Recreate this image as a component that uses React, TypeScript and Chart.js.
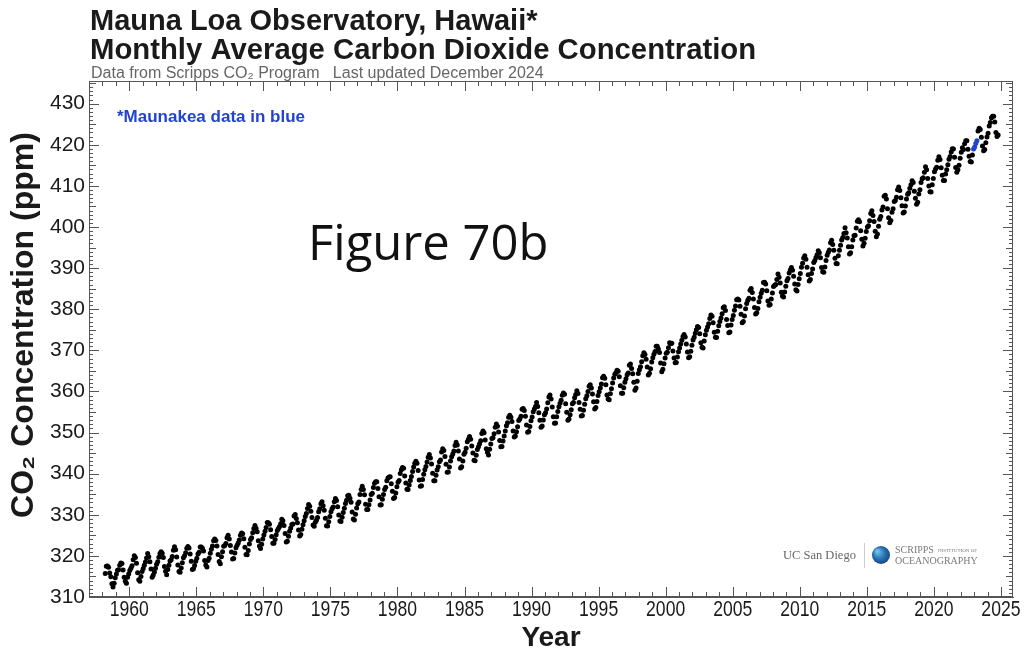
import React, { useEffect, useRef } from "react";
import { Chart, registerables } from "chart.js";

Chart.register(...registerables);

// ---- Text ----
const TITLE_LINE1 = "Mauna Loa Observatory, Hawaii*";
const TITLE_LINE2 = "Monthly Average Carbon Dioxide Concentration";
const SUBTITLE = "Data from Scripps CO\u2082 Program   Last updated December 2024";
const NOTE = "*Maunakea data in blue";
const WATERMARK = "Figure 70b";
const X_TITLE = "Year";
const Y_TITLE = "CO\u2082 Concentration (ppm)";

// ---- Tick labels ----
const xTickLabels = [1960, 1965, 1970, 1975, 1980, 1985, 1990, 1995, 2000, 2005, 2010, 2015, 2020, 2025];
const yTickLabels = [310, 320, 330, 340, 350, 360, 370, 380, 390, 400, 410, 420, 430];

// ---- Monthly CO2 (ppm), Mauna Loa ----
// 1958 starts in March
const co2_1958_1959 = [
  315.70, 317.45, 317.51, 317.24, 315.86, 314.93, 313.20, 312.43, 313.33, 314.67,
  315.58, 316.49, 316.65, 317.72, 318.29, 318.15, 316.54, 314.80, 313.84, 313.33, 314.81, 315.58,
];
const co2_1960s = [
  316.43, 316.98, 317.58, 319.03, 320.04, 319.59, 318.18, 315.90, 314.17, 313.83, 315.00, 316.19,
  316.93, 317.70, 318.54, 319.48, 320.58, 319.77, 318.57, 316.79, 314.80, 315.38, 316.10, 317.01,
  317.94, 318.55, 319.68, 320.57, 321.02, 320.62, 319.61, 317.40, 316.25, 315.42, 316.69, 317.70,
  318.74, 319.07, 319.86, 321.38, 322.25, 321.48, 319.74, 317.77, 316.21, 315.99, 317.07, 318.35,
  319.57, 320.01, 320.74, 321.84, 322.26, 321.89, 320.44, 318.69, 316.70, 316.87, 317.68, 318.71,
  319.44, 320.44, 320.89, 322.14, 322.17, 321.87, 321.21, 318.87, 317.81, 317.30, 318.87, 319.42,
  320.62, 321.60, 322.39, 323.70, 324.08, 323.75, 322.38, 320.36, 318.64, 318.10, 319.78, 321.03,
  322.33, 322.50, 323.04, 324.42, 325.00, 324.09, 322.54, 320.92, 319.25, 319.39, 320.73, 321.96,
  322.57, 323.15, 323.89, 325.02, 325.57, 325.36, 324.14, 322.11, 320.33, 320.25, 321.32, 322.89,
  324.00, 324.42, 325.63, 326.66, 327.38, 326.71, 325.88, 323.66, 322.38, 321.78, 322.85, 324.12,
];
const co2_1970s = [
  325.06, 325.98, 326.93, 328.13, 328.08, 327.67, 326.34, 324.69, 323.10, 323.06, 324.01, 325.13,
  326.17, 326.68, 327.17, 327.79, 328.93, 328.57, 327.36, 325.43, 323.36, 323.56, 324.80, 326.01,
  326.77, 327.63, 327.75, 329.72, 330.07, 329.09, 328.04, 326.32, 324.84, 325.20, 326.50, 327.55,
  328.55, 329.56, 330.30, 331.50, 332.48, 332.07, 330.87, 329.31, 327.51, 327.18, 328.16, 328.64,
  329.35, 330.71, 331.48, 332.65, 333.18, 332.20, 331.07, 329.15, 327.33, 327.28, 328.31, 329.58,
  330.73, 331.46, 331.90, 333.17, 333.94, 333.45, 331.97, 329.95, 328.50, 328.34, 329.37, 330.58,
  331.59, 332.75, 333.52, 334.64, 334.77, 334.00, 333.06, 330.68, 328.95, 328.75, 330.15, 331.62,
  332.66, 333.13, 334.95, 336.13, 336.93, 336.17, 334.88, 332.56, 331.29, 331.27, 332.41, 333.60,
  334.95, 335.25, 336.66, 337.69, 338.03, 338.01, 336.41, 334.41, 332.37, 332.41, 333.75, 334.90,
  336.14, 336.69, 338.27, 338.96, 339.21, 339.26, 337.54, 335.75, 333.98, 334.19, 335.31, 336.81,
];
const co2_1980s = [
  337.90, 338.34, 340.01, 340.93, 341.48, 341.33, 339.40, 337.70, 336.19, 336.15, 337.27, 338.32,
  339.29, 340.55, 341.61, 342.53, 343.03, 342.54, 340.78, 338.44, 336.95, 337.08, 338.58, 339.88,
  340.96, 341.73, 342.81, 343.97, 344.63, 343.79, 342.32, 340.09, 338.28, 338.29, 339.60, 340.90,
  341.68, 342.90, 343.33, 345.25, 346.03, 345.63, 344.19, 342.27, 340.35, 340.38, 341.59, 343.05,
  344.10, 344.79, 345.52, 346.84, 347.63, 346.97, 345.53, 343.55, 341.40, 341.67, 343.10, 344.70,
  345.21, 346.16, 347.74, 348.34, 349.06, 348.38, 346.71, 345.02, 343.27, 343.13, 344.49, 345.88,
  346.56, 347.28, 348.01, 349.77, 350.38, 349.93, 348.16, 346.08, 345.22, 344.51, 345.93, 347.21,
  348.52, 348.73, 349.73, 351.31, 352.09, 351.53, 350.11, 348.08, 346.52, 346.59, 347.96, 349.16,
  350.39, 351.64, 352.41, 353.69, 354.21, 353.72, 352.69, 350.40, 348.92, 349.13, 350.20, 351.41,
  352.91, 353.27, 353.96, 355.64, 355.86, 355.37, 353.99, 351.81, 350.05, 350.25, 351.49, 352.85,
];
const co2_1990s = [
  353.80, 355.04, 355.73, 356.32, 357.32, 356.34, 354.84, 353.01, 351.31, 351.62, 353.07, 354.33,
  354.84, 355.73, 357.23, 358.66, 359.13, 358.13, 356.19, 353.85, 352.25, 352.35, 353.81, 355.12,
  356.25, 357.11, 357.86, 359.09, 359.59, 359.33, 357.01, 354.94, 352.96, 353.32, 354.32, 355.57,
  357.00, 357.31, 358.47, 359.27, 360.19, 359.52, 357.33, 355.64, 354.03, 354.12, 355.41, 356.91,
  358.24, 358.92, 359.99, 361.23, 361.65, 360.81, 359.38, 357.46, 355.73, 356.08, 357.53, 358.98,
  359.92, 360.86, 361.83, 363.30, 363.69, 363.19, 361.64, 359.12, 358.17, 357.99, 359.45, 360.68,
  362.07, 363.24, 364.17, 364.57, 365.13, 364.92, 363.55, 361.38, 359.54, 359.58, 360.89, 362.24,
  363.09, 364.03, 364.51, 366.35, 366.64, 365.59, 364.31, 362.25, 360.29, 360.82, 362.49, 364.38,
  365.26, 365.98, 367.24, 368.66, 369.42, 368.99, 367.82, 365.95, 364.02, 364.40, 365.52, 367.13,
  368.18, 369.07, 369.68, 370.99, 370.96, 370.30, 369.45, 366.90, 364.81, 365.37, 366.72, 368.10,
];
const co2_2000s = [
  369.29, 369.54, 370.60, 371.82, 371.58, 371.70, 369.86, 368.13, 367.00, 367.03, 368.37, 369.67,
  370.59, 371.51, 372.43, 373.37, 373.85, 373.21, 371.51, 369.61, 368.18, 368.45, 369.76, 371.24,
  372.53, 373.20, 374.12, 375.02, 375.76, 375.52, 374.01, 371.85, 370.75, 370.55, 372.25, 373.79,
  374.88, 375.64, 376.45, 377.73, 378.60, 378.28, 376.70, 374.38, 373.17, 373.14, 374.66, 375.99,
  377.00, 377.87, 378.88, 380.35, 380.62, 379.69, 377.47, 376.01, 374.25, 374.46, 376.16, 377.51,
  378.46, 379.73, 380.77, 382.29, 382.45, 382.21, 380.74, 378.74, 376.70, 377.00, 378.35, 380.11,
  381.38, 382.19, 382.67, 384.61, 385.03, 384.05, 382.46, 380.41, 378.85, 379.13, 380.15, 381.82,
  382.89, 383.90, 384.58, 386.50, 386.56, 386.10, 384.50, 381.99, 380.96, 381.12, 382.45, 383.95,
  385.52, 385.82, 386.03, 387.21, 388.54, 387.76, 386.36, 384.09, 383.18, 382.99, 384.19, 385.56,
  386.94, 387.48, 388.82, 389.55, 390.14, 389.48, 388.03, 386.11, 384.74, 384.43, 386.02, 387.42,
];
const co2_2010s = [
  388.71, 390.20, 391.17, 392.46, 393.00, 392.15, 390.20, 388.35, 386.85, 387.24, 388.67, 389.79,
  391.33, 391.86, 392.60, 393.25, 394.19, 393.74, 392.51, 390.13, 389.08, 389.00, 390.28, 391.86,
  393.12, 393.86, 394.40, 396.18, 396.74, 395.71, 394.36, 392.39, 391.11, 391.05, 392.98, 394.34,
  395.55, 396.80, 397.43, 398.41, 399.78, 398.60, 397.32, 395.20, 393.45, 393.70, 395.16, 396.84,
  397.85, 398.01, 399.77, 401.38, 401.78, 401.25, 399.10, 397.03, 395.38, 396.03, 397.28, 398.91,
  399.98, 400.28, 401.54, 403.28, 403.96, 402.80, 401.31, 398.93, 397.63, 398.29, 400.16, 401.85,
  402.56, 404.12, 404.87, 407.45, 407.72, 406.83, 404.41, 402.27, 401.05, 401.59, 403.55, 404.45,
  406.17, 406.46, 407.22, 409.04, 409.69, 408.88, 407.12, 405.13, 403.37, 403.63, 405.12, 406.81,
  407.96, 408.32, 409.41, 410.24, 411.24, 410.79, 408.71, 406.99, 405.51, 406.00, 408.02, 409.07,
  410.83, 411.75, 411.97, 413.32, 414.66, 413.92, 411.77, 409.95, 408.54, 408.53, 410.27, 411.76,
];
// null = no Mauna Loa measurement (2022 eruption); ends October 2024
const co2_2020s = [
  413.40, 414.11, 414.51, 416.21, 417.07, 416.39, 414.38, 412.55, 411.29, 411.28, 412.89, 413.89,
  415.15, 416.47, 417.16, 418.24, 419.05, 418.97, 416.96, 414.47, 413.30, 413.93, 415.01, 416.71,
  418.19, 419.28, 418.81, 420.23, 420.99, 420.99, 418.90, 417.19, 415.95, 415.78, 417.51, null,
  null, null, null, 423.36, 424.00, 423.68, 421.83, 419.68, 418.51, 418.82, 420.46, 421.86,
  422.80, 424.55, 425.38, 426.57, 426.90, 426.91, 425.55, 422.99, 422.03, 422.38,
];
// Maunakea, December 2022 - March 2023
const maunakeaValues = [418.95, 419.47, 420.31, 420.99];

type Pt = { x: number; y: number };
function toPoints(startYear: number, startMonth: number, values: (number | null)[]): Pt[] {
  const out: Pt[] = [];
  values.forEach((v, i) => {
    if (v === null) return;
    const m = startMonth + i;
    out.push({ x: startYear + (m + 0.5) / 12, y: v });
  });
  return out;
}

const maunaLoaPoints: Pt[] = [
  ...toPoints(1958, 2, co2_1958_1959),
  ...toPoints(1960, 0, co2_1960s),
  ...toPoints(1970, 0, co2_1970s),
  ...toPoints(1980, 0, co2_1980s),
  ...toPoints(1990, 0, co2_1990s),
  ...toPoints(2000, 0, co2_2000s),
  ...toPoints(2010, 0, co2_2010s),
  ...toPoints(2020, 0, co2_2020s),
];
const maunakeaPoints: Pt[] = toPoints(2022, 11, maunakeaValues);

const SANS = '"Liberation Sans", "DejaVu Sans", Arial, sans-serif';
const SERIF = '"Liberation Serif", "DejaVu Serif", serif';
const AXIS_COLOR = "#555";
const TEXT_COLOR = "#1a1a1a";
const BLUE = "#2244cc";

const decorPlugin = {
  id: "decor",
  afterDraw(chart: any) {
    const ctx: CanvasRenderingContext2D = chart.ctx;
    const { left, right, top, bottom } = chart.chartArea;
    const xs = chart.scales.x;
    const ys = chart.scales.y;
    ctx.save();
    // frame
    ctx.strokeStyle = AXIS_COLOR;
    ctx.lineWidth = 1;
    ctx.strokeRect(left + 0.5, top + 0.5, right - left - 1, bottom - top - 1);
    // inner ticks
    ctx.beginPath();
    for (let yr = Math.ceil(xs.min); yr <= xs.max; yr++) {
      const px = Math.round(xs.getPixelForValue(yr)) + 0.5;
      const len = yr % 5 === 0 ? 10 : 5;
      ctx.moveTo(px, bottom);
      ctx.lineTo(px, bottom - len);
      ctx.moveTo(px, top);
      ctx.lineTo(px, top + len);
    }
    for (let v = Math.ceil(ys.min); v <= ys.max; v++) {
      const py = Math.round(ys.getPixelForValue(v)) + 0.5;
      const len = v % 10 === 0 ? 10 : v % 5 === 0 ? 7 : 4;
      ctx.moveTo(left, py);
      ctx.lineTo(left + len, py);
      ctx.moveTo(right, py);
      ctx.lineTo(right - len, py);
    }
    ctx.stroke();

    // x tick labels (condensed)
    ctx.fillStyle = TEXT_COLOR;
    ctx.font = `22px ${SANS}`;
    ctx.textAlign = "center";
    ctx.textBaseline = "alphabetic";
    xTickLabels.forEach((v) => {
      const px = xs.getPixelForValue(v);
      ctx.save();
      ctx.translate(px, 616);
      ctx.scale(0.8, 1);
      ctx.fillText(String(v), 0, 0);
      ctx.restore();
    });

    // axis titles
    ctx.font = `bold 28px ${SANS}`;
    ctx.fillText(X_TITLE, (left + right) / 2, 646);
    ctx.save();
    ctx.translate(33, 325);
    ctx.rotate(-Math.PI / 2);
    ctx.font = `bold 32px ${SANS}`;
    ctx.fillText(Y_TITLE, 0, 0);
    ctx.restore();

    // titles
    ctx.textAlign = "left";
    ctx.fillStyle = TEXT_COLOR;
    ctx.font = `bold 29px ${SANS}`;
    ctx.fillText(TITLE_LINE1, 90, 30);
    ctx.save();
    ctx.translate(90, 59);
    ctx.scale(1.01, 1);
    ctx.fillText(TITLE_LINE2, 0, 0);
    ctx.restore();
    ctx.fillStyle = "#666";
    ctx.font = `16px ${SANS}`;
    ctx.fillText(SUBTITLE, 91, 78);

    // note
    ctx.fillStyle = BLUE;
    ctx.font = `bold 17px ${SANS}`;
    ctx.fillText(NOTE, 117, 122);

    // watermark text
    ctx.fillStyle = "#111";
    ctx.font = `49px "Open Sans", ${SANS}`;
    ctx.fillText(WATERMARK, 308, 260);

    // logos
    ctx.fillStyle = "#666";
    ctx.font = `12.5px ${SERIF}`;
    ctx.fillText("UC San Diego", 783, 559);
    ctx.strokeStyle = "#ccc";
    ctx.beginPath();
    ctx.moveTo(864.5, 543);
    ctx.lineTo(864.5, 568);
    ctx.stroke();
    const g = ctx.createRadialGradient(877, 551, 1, 881, 555, 10);
    g.addColorStop(0, "#6fc3e8");
    g.addColorStop(0.5, "#2a78b8");
    g.addColorStop(1, "#173f7a");
    ctx.fillStyle = g;
    ctx.beginPath();
    ctx.arc(881, 555, 9, 0, Math.PI * 2);
    ctx.fill();
    ctx.fillStyle = "#7a7a7a";
    ctx.font = `10px ${SERIF}`;
    ctx.fillText("SCRIPPS", 895, 553);
    ctx.font = `5px ${SERIF}`;
    ctx.fillText("INSTITUTION OF", 938, 552);
    ctx.font = `10px ${SERIF}`;
    ctx.fillText("OCEANOGRAPHY", 895, 564);
    ctx.restore();
  },
};

export default function App() {
  const canvasRef = useRef<HTMLCanvasElement | null>(null);

  useEffect(() => {
    const canvas = canvasRef.current;
    if (!canvas) return;
    const chart = new Chart(canvas, {
      type: "scatter",
      data: {
        datasets: [
          {
            label: "Mauna Loa",
            data: maunaLoaPoints,
            backgroundColor: "#000",
            borderWidth: 0,
            pointRadius: 2.5,
            showLine: false,
          },
          {
            label: "Maunakea",
            data: maunakeaPoints,
            backgroundColor: BLUE,
            borderWidth: 0,
            pointRadius: 2.5,
            showLine: false,
          },
        ],
      },
      options: {
        responsive: false,
        animation: false,
        devicePixelRatio: 1,
        layout: { padding: { left: 0, top: 81, right: 12, bottom: 0 } },
        plugins: {
          legend: { display: false },
          tooltip: { enabled: false },
          title: { display: false },
        },
        scales: {
          x: {
            type: "linear",
            min: 1957,
            max: 2025.9,
            afterFit: (s: any) => {
              s.height = 55;
            },
            afterBuildTicks: (s: any) => {
              s.ticks = xTickLabels.map((v) => ({ value: v }));
            },
            ticks: { display: false },
            grid: { drawOnChartArea: false, drawTicks: false },
            border: { display: true, color: AXIS_COLOR },
            title: { display: false },
          },
          y: {
            type: "linear",
            min: 310,
            max: 435.5,
            afterFit: (s: any) => {
              s.width = 89;
            },
            afterBuildTicks: (s: any) => {
              s.ticks = yTickLabels.map((v) => ({ value: v }));
            },
            ticks: {
              autoSkip: false,
              padding: 4,
              color: TEXT_COLOR,
              font: { family: SANS, size: 21 },
              callback: (v: any) => String(v),
            },
            grid: { drawOnChartArea: false, drawTicks: false },
            border: { display: true, color: AXIS_COLOR },
            title: { display: false },
          },
        },
      },
      plugins: [decorPlugin],
    } as any);
    return () => chart.destroy();
  }, []);

  return (
    <div style={{ position: "absolute", left: 0, top: 0, width: 1025, height: 652, background: "#fff" }}>
      <canvas ref={canvasRef} width={1025} height={652} style={{ display: "block", width: 1025, height: 652 }} />
    </div>
  );
}
